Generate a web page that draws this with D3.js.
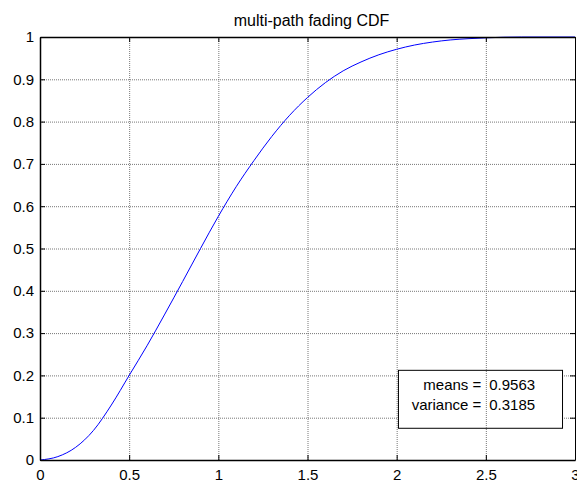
<!DOCTYPE html>
<html>
<head>
<meta charset="utf-8">
<script src="https://cdn.jsdelivr.net/npm/d3@7"></script>
<style>
  body { margin: 0; background: #fff; }
  svg { font-family: "Liberation Sans", Arial, sans-serif; }
</style>
</head>
<body>
<div id="chart"></div>
<script>
// values
var xVals = [0, 0.1, 0.2, 0.3, 0.4, 0.5, 0.6, 0.7, 0.8, 0.9, 1.0, 1.1, 1.2, 1.3, 1.4, 1.5, 1.6, 1.7, 1.8, 1.9, 2.0, 2.1, 2.2, 2.3, 2.4, 2.5, 2.6, 2.7, 3.0];
var cdfVals = [0, 0.008, 0.03, 0.07, 0.13, 0.2, 0.27, 0.345, 0.422, 0.5, 0.576, 0.646, 0.708, 0.765, 0.815, 0.857, 0.892, 0.92, 0.941, 0.958, 0.971, 0.981, 0.988, 0.993, 0.996, 0.998, 0.9995, 1.0, 1.0];
var xTicks = [0, 0.5, 1, 1.5, 2, 2.5, 3];
var yTicks = [0, 0.1, 0.2, 0.3, 0.4, 0.5, 0.6, 0.7, 0.8, 0.9, 1];
var statLabels = ["means =", "variance ="];
var statValues = ["0.9563", "0.3185"];
var title = "multi-path fading CDF";

var W = 577, H = 484;
var m = {left: 40, right: 2, top: 37, bottom: 24};
var w = W - m.left - m.right, h = H - m.top - m.bottom;

var svg = d3.select("#chart").append("svg")
    .attr("width", W).attr("height", H);

var g = svg.append("g").attr("transform", "translate(" + m.left + "," + m.top + ")");

var x = d3.scaleLinear().domain([0, 3]).range([0, w]);
var y = d3.scaleLinear().domain([0, 1]).range([h, 0]);

// horizontal grid
g.append("g")
    .call(d3.axisLeft(y).tickValues(yTicks).tickSize(-w).tickFormat(""))
    .call(function(s) {
      s.select(".domain").remove();
      s.selectAll("line").attr("stroke", "#777").attr("stroke-dasharray", "1,1");
    });

// stats box (horizontal grid hidden behind it)
var bx0 = x(2.01), bx1 = x(2.93), by0 = y(0.212), by1 = y(0.075);
g.append("rect")
    .attr("x", bx0).attr("y", by0)
    .attr("width", bx1 - bx0).attr("height", by1 - by0)
    .attr("fill", "#fff").attr("stroke", "#000").attr("stroke-width", 1);

// vertical grid
g.append("g")
    .call(d3.axisBottom(x).tickValues(xTicks).tickSize(h).tickFormat(""))
    .call(function(s) {
      s.select(".domain").remove();
      s.selectAll("line").attr("stroke", "#777").attr("stroke-dasharray", "1,1");
    });

var pts = xVals.map(function(d, i) { return [d, cdfVals[i]]; });
g.append("path")
    .datum(pts)
    .attr("fill", "none")
    .attr("stroke", "#0000ff")
    .attr("stroke-width", 1)
    .attr("d", d3.line()
      .x(function(d) { return x(d[0]); })
      .y(function(d) { return y(d[1]); })
      .curve(d3.curveMonotoneX));

// axes, ticks inside
function styleAxis(s) {
  s.select(".domain").attr("stroke", "#000").attr("stroke-width", 1.5);
  s.selectAll(".tick line").attr("stroke", "#000");
  s.selectAll("text").attr("fill", "#000").style("font-size", "15px");
}

g.append("g").attr("transform", "translate(0," + h + ")")
    .call(d3.axisBottom(x).tickValues(xTicks).tickSize(-5).tickSizeOuter(0).tickPadding(9).tickFormat(d3.format("")))
    .call(styleAxis);

g.append("g")
    .call(d3.axisLeft(y).tickValues(yTicks).tickSize(-5).tickSizeOuter(0).tickPadding(6).tickFormat(d3.format("")))
    .call(styleAxis);

g.append("g")
    .call(d3.axisTop(x).tickValues(xTicks).tickSize(-5).tickSizeOuter(0).tickFormat(""))
    .call(styleAxis);

g.append("g").attr("transform", "translate(" + w + ",0)")
    .call(d3.axisRight(y).tickValues(yTicks).tickSize(-5).tickSizeOuter(0).tickFormat(""))
    .call(function(s) { styleAxis(s); s.select(".domain").attr("stroke-width", 1); });

// stats text
var midX = x(2.48);
statLabels.forEach(function(t, i) {
  g.append("text")
    .attr("x", midX - 1).attr("y", by0 + 20 + i * 20)
    .attr("text-anchor", "end")
    .style("font-size", "15px")
    .text(t);
  g.append("text")
    .attr("x", midX + 7).attr("y", by0 + 20 + i * 20)
    .attr("text-anchor", "start")
    .style("font-size", "15px")
    .text(statValues[i]);
});

svg.append("text")
    .attr("x", m.left + w / 2 + 4).attr("y", 26)
    .attr("text-anchor", "middle")
    .style("font-size", "16px")
    .text(title);
</script>
</body>
</html>
